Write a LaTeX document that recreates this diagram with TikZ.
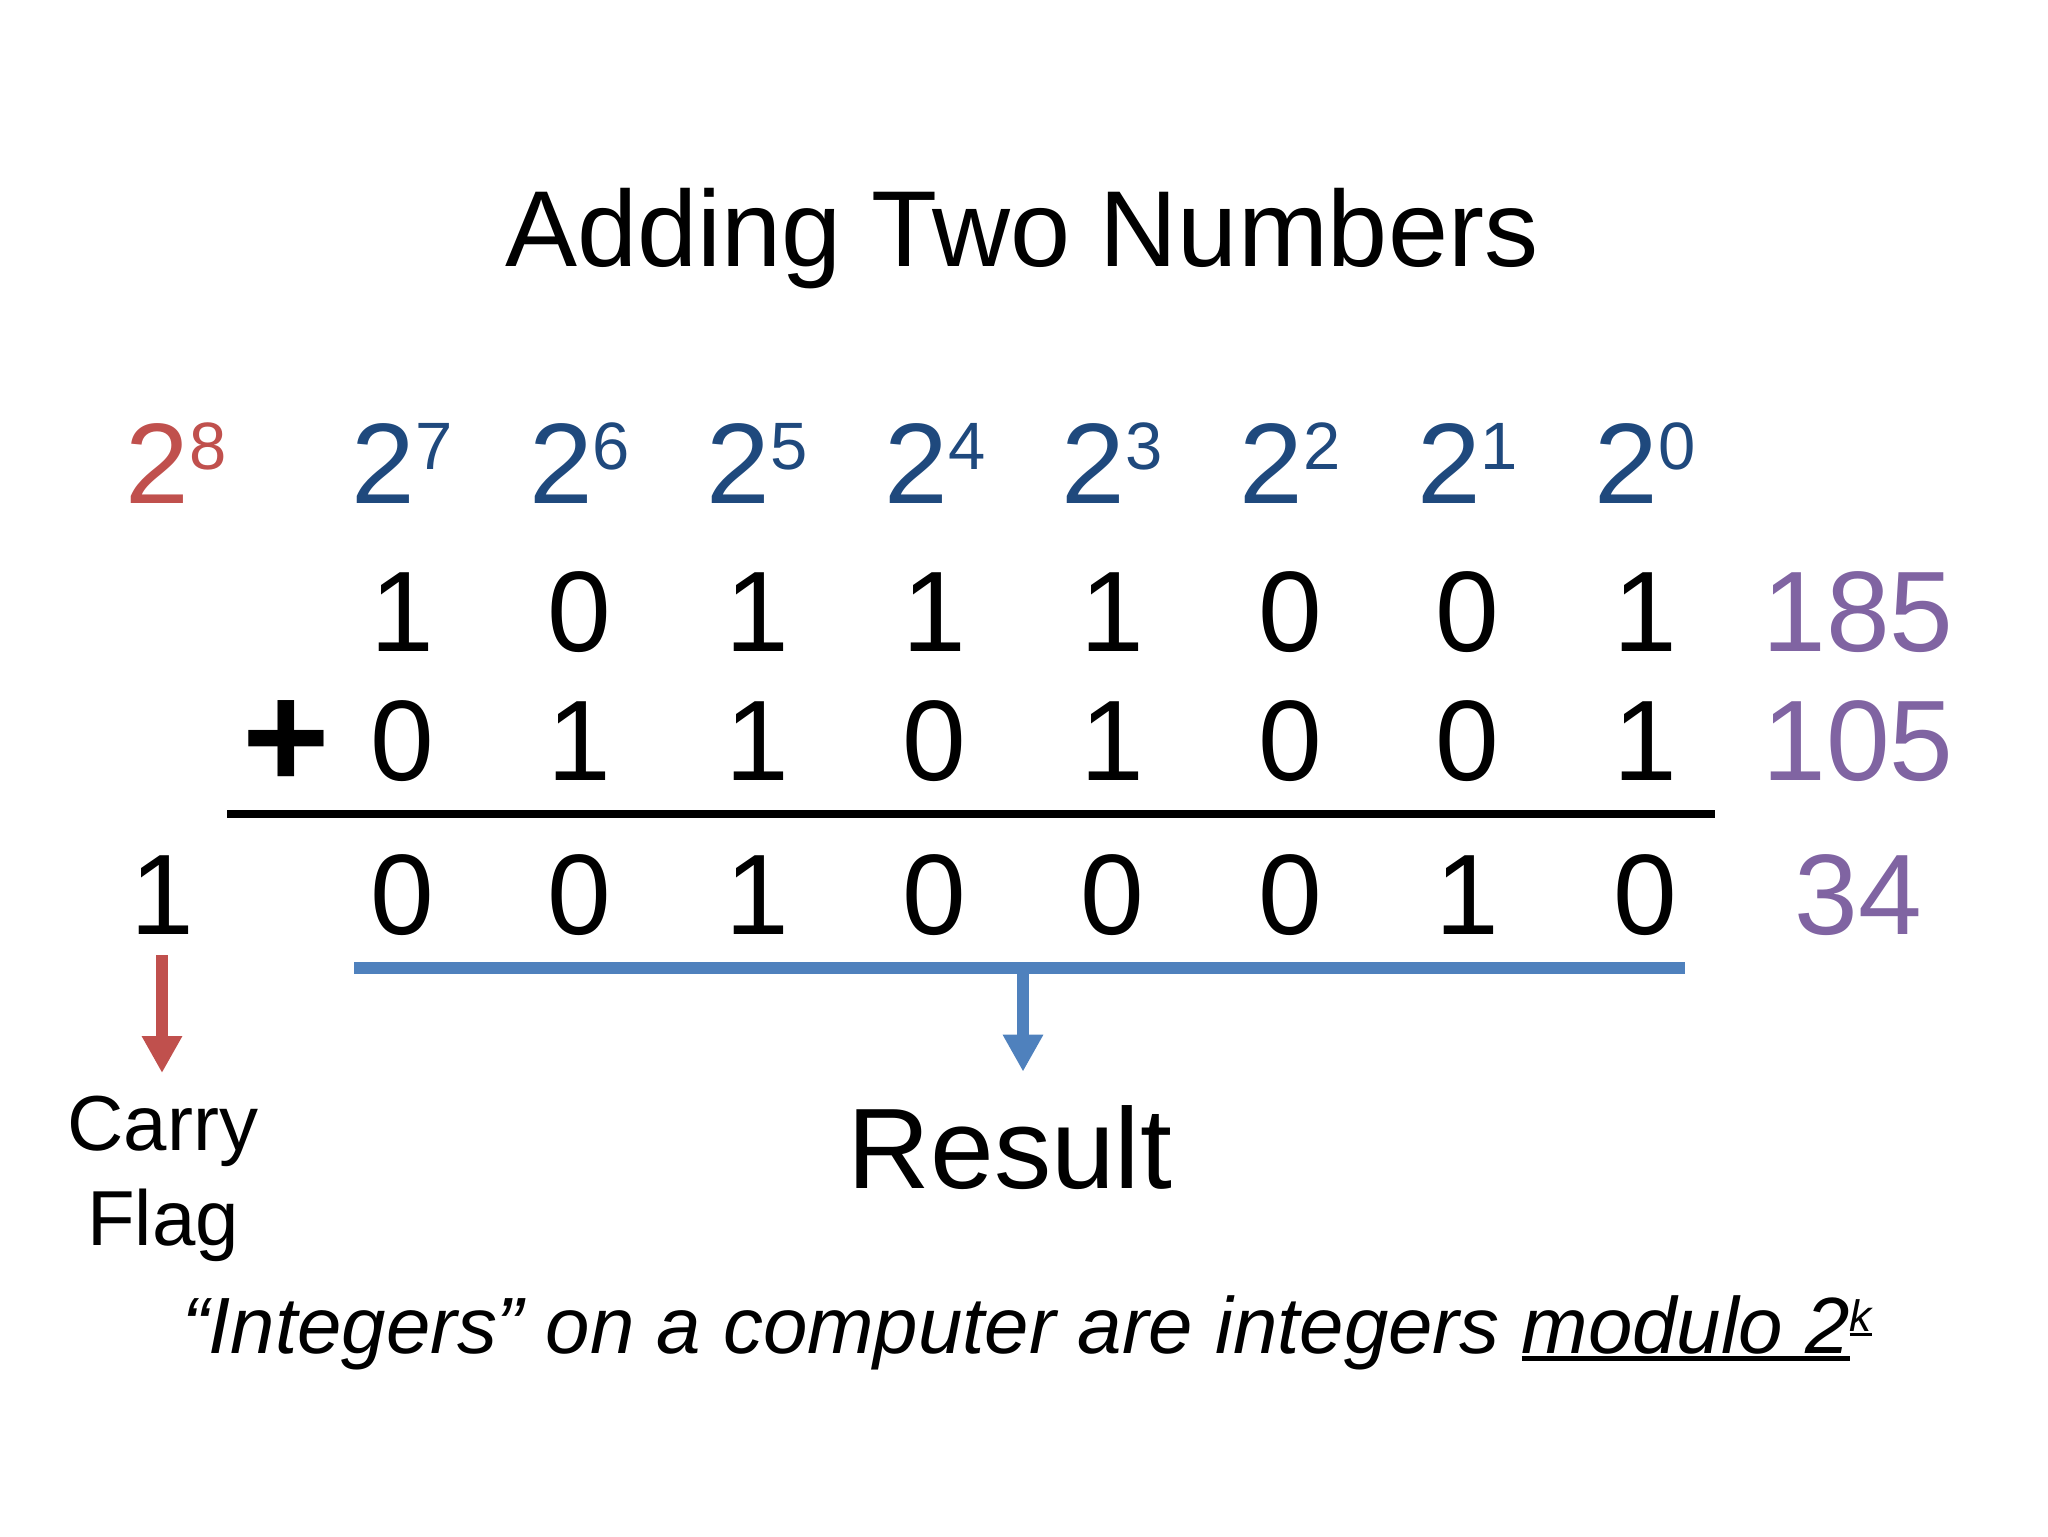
\documentclass[tikz,border=0pt]{standalone}
\usepackage{fontspec}
\setmainfont{Liberation Sans}
\usetikzlibrary{arrows.meta}
\definecolor{cred}{HTML}{C0504D}
\definecolor{cblue}{HTML}{1F497D}
\definecolor{cpurple}{HTML}{8064A2}
\definecolor{cline}{HTML}{4F81BD}
\newcommand\pw[1]{2\raisebox{17pt}{\fontsize{33.5}{35}\selectfont #1}}
\newcommand\ulA[1]{\setbox0\hbox{#1}\rlap{\rule[-4pt]{\wd0}{2.5pt}}\box0}
\newcommand\ulB[1]{\setbox0\hbox{#1}\rlap{\rule[-2.5pt]{\wd0}{1.6pt}}\box0}
\begin{document}
\begin{tikzpicture}[x=0.5pt,y=-0.5pt,
  dig/.style={font=\fontsize{57.25}{60}\selectfont, inner sep=0pt, anchor=base},
  pow/.style={dig, text=cblue},
  num/.style={dig, text=cpurple},
  arr/.style={line width=6pt, -{Triangle[length=18.5pt,width=19pt]}},
]
\useasboundingbox (0,0) rectangle (2048,1536);
\node[inner sep=0pt, anchor=base, font=\fontsize{54}{60}\selectfont] (title) at (1022,266) {Adding Two Numbers};
% powers of two
\node[dig, text=cred] (p8) at (176,503) {\pw{8}};
\foreach \k [count=\i from 0] in {7,6,...,0}
  \node[pow] (p\k) at ({402+177.6*\i},503) {\pw{\k}};
% operands and result
\foreach \d [count=\i from 0] in {1,0,1,1,1,0,0,1}
  \node[dig] (a\i) at ({402+177.6*\i},651) {\d};
\foreach \d [count=\i from 0] in {0,1,1,0,1,0,0,1}
  \node[dig] (b\i) at ({402+177.6*\i},780) {\d};
\foreach \d [count=\i from 0] in {0,0,1,0,0,0,1,0}
  \node[dig] (s\i) at ({402+177.6*\i},934) {\d};
\node[dig] (carry) at (162,934) {1};
\node[inner sep=0pt, font=\fontsize{75}{80}\selectfont\bfseries] (plus) at (286.5,745) {+};
% decimal values
\node[num] (n185) at (1858,651) {185};
\node[num] (n105) at (1858,780) {105};
\node[num] (n34) at (1858,934) {34};
% sum rule
\coordinate (r1) at (227,814);
\coordinate (r2) at (1715,814);
\draw[line width=4pt] (r1) -- (r2);
% result bracket line
\coordinate (u1) at (354,968);
\coordinate (u2) at (1685,968);
\coordinate (umid) at (1023,968);
\draw[cline, line width=6pt] (u1) -- (u2);
% labels
\node[dig] (result) at (1010,1188) {Result};
\node[inner sep=0pt, anchor=north, align=center, font=\fontsize{39}{47.5}\selectfont] (carryflag) at (163,1096) {Carry\\Flag};
\draw[arr, cline, shorten >=16.5pt] (umid) -- (umid |- result.north);
\draw[arr, cred, shorten <=10.5pt, shorten >=11.5pt] (carry.south) -- (carry.south |- carryflag.north);
% note
\node[inner sep=0pt, anchor=base, font=\fontsize{39.9}{42}\selectfont\itshape] (note) at (1027,1353)
  {“Integers” on a computer are integers \ulA{modulo 2}\raisebox{11pt}{\fontsize{22}{24}\selectfont\ulB{k}}};
\end{tikzpicture}
\end{document}
